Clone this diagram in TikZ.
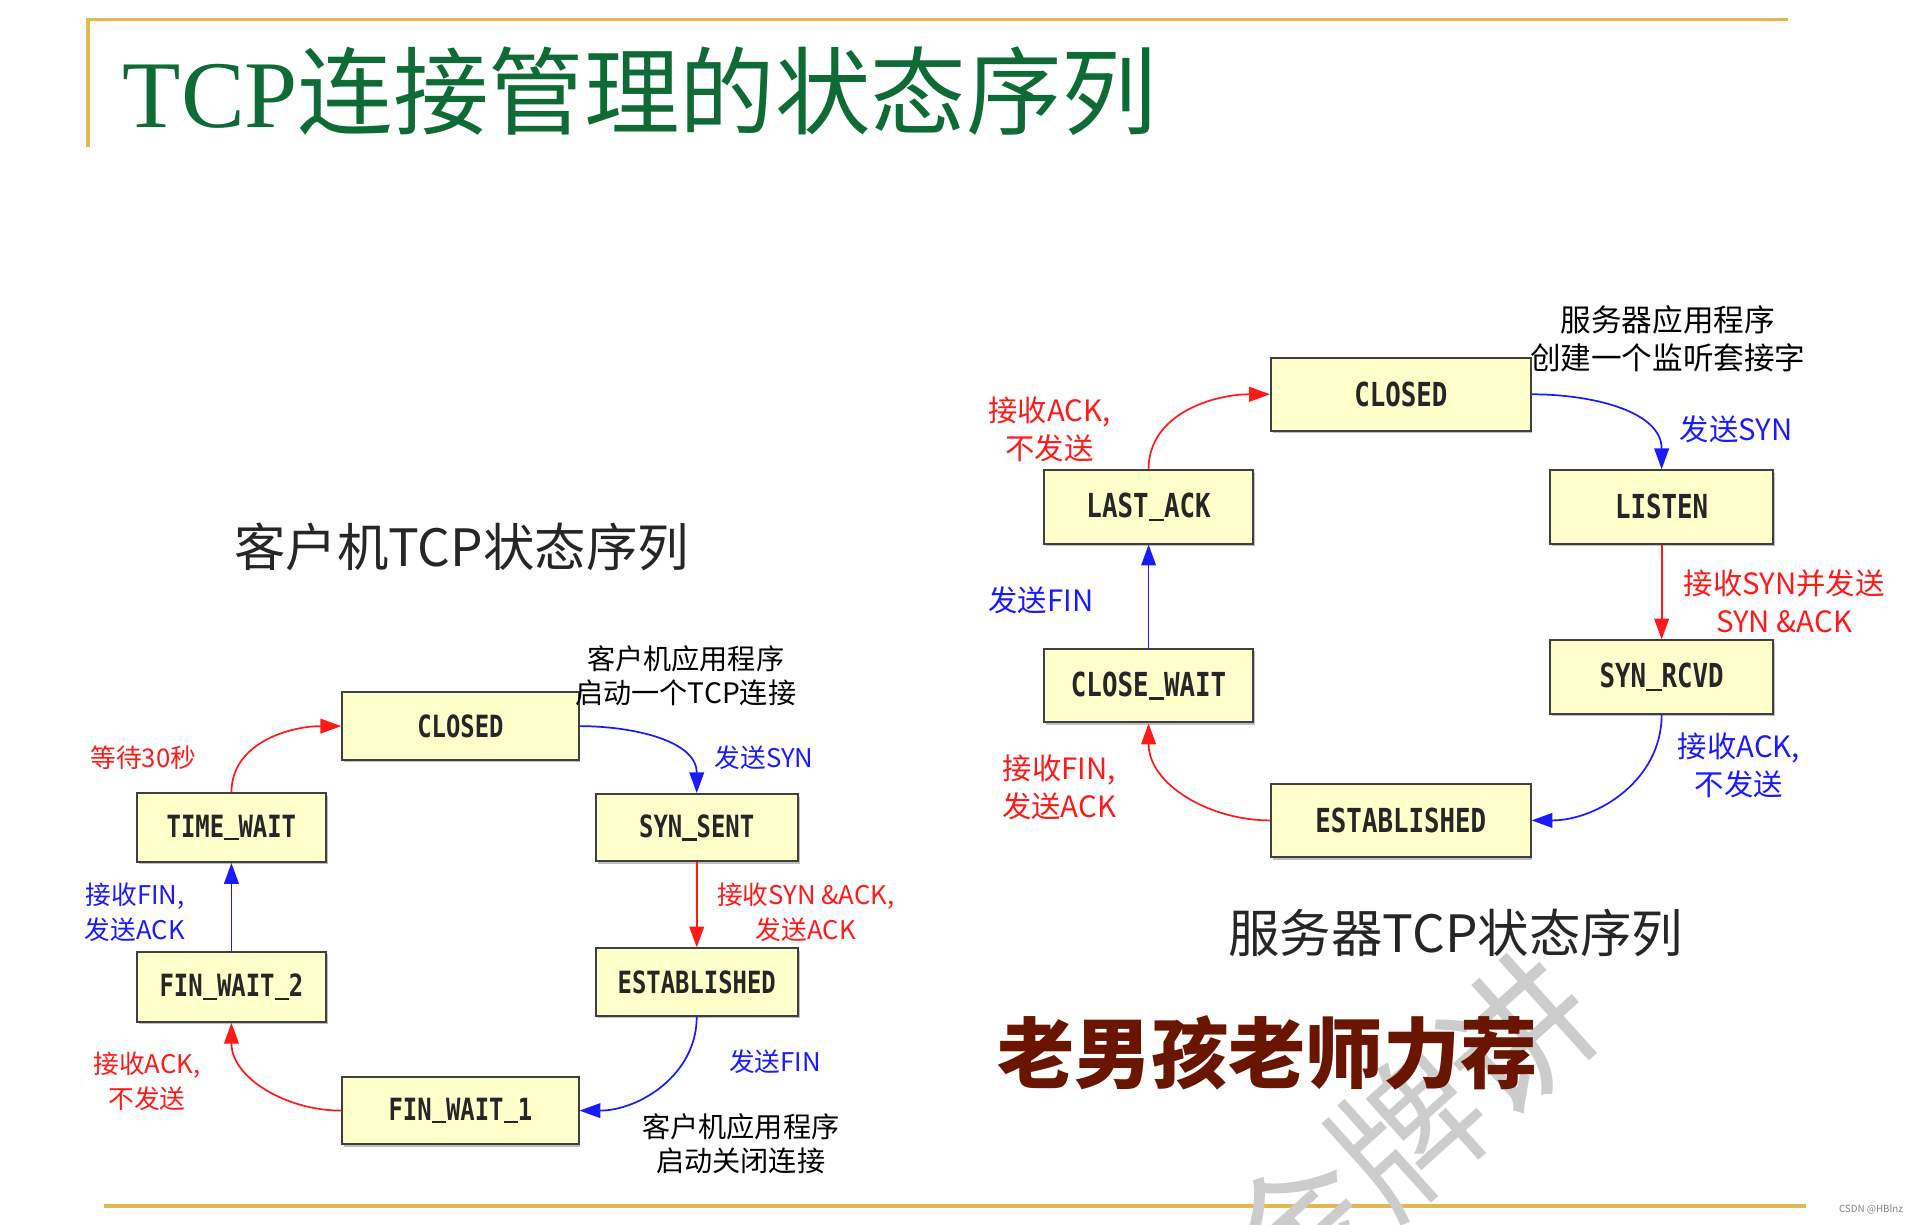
\documentclass[tikz,border=0pt]{standalone}
\usepackage{fontspec}
\setmainfont{Noto Sans CJK SC}
\newfontfamily\titlefont{Liberation Serif}
\newfontfamily\statefont{DejaVu Sans Mono}
\usetikzlibrary{arrows.meta,shadows}
\definecolor{boxfill}{HTML}{FFFFCC}
\definecolor{titlegreen}{HTML}{0E6B36}
\definecolor{goldline}{HTML}{E2B94B}
\definecolor{lblred}{HTML}{FF1A1A}
\definecolor{lblblue}{HTML}{1A1AFF}
\definecolor{tagbrown}{HTML}{6A1500}
\newcommand\st[1]{\scalebox{0.78}[1]{#1}}
\newcommand\us{\rule[-2.5pt]{0.602em}{1.8pt}}
\tikzset{
  state/.style={draw=black!75,line width=1.6pt,fill=boxfill,inner sep=0pt,
    drop shadow={shadow xshift=1.5pt,shadow yshift=-2pt,fill=black!50},
    text=black!85},
  cstate/.style={state,minimum height=55pt,font=\statefont\bfseries\fontsize{25}{25}\selectfont},
  sstate/.style={state,minimum height=60pt,font=\statefont\bfseries\fontsize{27}{27}\selectfont},
  clbl/.style={align=center,inner sep=0pt,font=\fontsize{21}{28}\selectfont},
  slbl/.style={align=center,inner sep=0pt,font=\fontsize{24}{31}\selectfont},
}
\begin{document}
\begin{tikzpicture}[x=1pt,y=1pt,>={Triangle[length=17pt,width=12pt]}]
  \useasboundingbox (0,0) rectangle (1568,-1000);
  % frame and title
  \draw[goldline,line width=3pt] (72,-120) -- (72,-16) -- (1460,-16);
  \draw[goldline,line width=3pt] (85,-985) -- (1475,-985);
  \node[anchor=base west,inner sep=0pt,text=titlegreen,font=\fontsize{78}{80}\selectfont] (title) at (100,-104) {{\titlefont TCP}连接管理的状态序列};
  % watermark
  \node[rotate=42,text=black!20,font=\fontsize{120}{120}\selectfont] (wm) at (1150,-925) {金牌讲};
  % client side
  \node[text=black!85,font=\fontsize{42}{42}\selectfont] (ctitle) at (377,-447) {客户机TCP状态序列};
  \node[cstate,minimum width=193pt] (cCL) at (376,-593) {\st{CLOSED}};
  \node[cstate,minimum width=165pt] (cSS) at (569,-676) {\st{SYN\us SENT}};
  \node[cstate,minimum width=165pt] (cES) at (569,-802) {\st{ESTABLISHED}};
  \node[cstate,minimum width=193pt] (cF1) at (376,-907) {\st{FIN\us WAIT\us 1}};
  \node[cstate,minimum width=154pt,minimum height=57pt] (cF2) at (189,-806) {\st{FIN\us WAIT\us 2}};
  \node[cstate,minimum width=154pt,minimum height=56pt] (cTW) at (189,-676) {\st{TIME\us WAIT}};
  \draw[->,lblblue,line width=1.4pt] (cCL.east) to[out=0,in=90] (cSS.north);
  \draw[->,lblred,line width=1.4pt] (cSS.south) -- (cES.north);
  \draw[->,lblblue,line width=1.4pt] (cES.south) to[out=-90,in=0] (cF1.east);
  \draw[->,lblred,line width=1.4pt] (cF1.west) to[out=180,in=-90] (cF2.south);
  \draw[->,lblblue,line width=1.4pt] (cF2.north) -- (cTW.south);
  \draw[->,lblred,line width=1.4pt] (cTW.north) to[out=90,in=180] (cCL.west);
  \node[clbl,font=\fontsize{23}{28}\selectfont] (cOpen) at (560,-552) {客户机应用程序\\启动一个TCP连接};
  \node[clbl,text=lblblue] (cSyn) at (624,-619) {发送SYN};
  \node[clbl,text=lblred] (cSynAck) at (658,-745) {接收SYN \&ACK,\\发送ACK};
  \node[clbl,text=lblblue] (cFin) at (633,-867) {发送FIN};
  \node[clbl,font=\fontsize{23}{28}\selectfont] (cClose) at (605,-934) {客户机应用程序\\启动关闭连接};
  \node[clbl,text=lblred] (cAck) at (120,-883) {接收ACK,\\不发送};
  \node[clbl,text=lblblue,align=right,anchor=east] (cFinAck) at (151,-745) {接收FIN,\\发送ACK};
  \node[clbl,text=lblred] (cWait) at (117,-619) {等待30秒};
  % server side
  \node[text=black!85,font=\fontsize{42}{42}\selectfont] (stitle) at (1189,-762) {服务器TCP状态序列};
  \node[sstate,minimum width=212pt] (sCL) at (1144,-322) {\st{CLOSED}};
  \node[sstate,minimum width=182pt] (sLI) at (1357,-414) {\st{LISTEN}};
  \node[sstate,minimum width=182pt] (sSR) at (1357,-553) {\st{SYN\us RCVD}};
  \node[sstate,minimum width=212pt] (sES) at (1144,-670) {\st{ESTABLISHED}};
  \node[sstate,minimum width=171pt] (sCW) at (938,-560) {\st{CLOSE\us WAIT}};
  \node[sstate,minimum width=171pt] (sLA) at (938,-414) {\st{LAST\us ACK}};
  \draw[->,lblblue,line width=1.4pt] (sCL.east) to[out=0,in=90] (sLI.north);
  \draw[->,lblred,line width=1.4pt] (sLI.south) -- (sSR.north);
  \draw[->,lblblue,line width=1.4pt] (sSR.south) to[out=-90,in=0] (sES.east);
  \draw[->,lblred,line width=1.4pt] (sES.west) to[out=180,in=-90] (sCW.south);
  \draw[->,lblblue,line width=1.4pt] (sCW.north) -- (sLA.south);
  \draw[->,lblred,line width=1.4pt] (sLA.north) to[out=90,in=180] (sCL.west);
  \node[slbl,font=\fontsize{25}{31}\selectfont] (sOpen) at (1362,-277) {服务器应用程序\\创建一个监听套接字};
  \node[slbl,text=lblblue] (sSyn) at (1418,-351) {发送SYN};
  \node[slbl,text=lblred] (sSynAck) at (1457,-491) {接收SYN并发送\\SYN \&ACK};
  \node[slbl,text=lblblue] (sAck) at (1420,-625) {接收ACK,\\不发送};
  \node[slbl,text=lblred] (sFinAck) at (865,-643) {接收FIN,\\发送ACK};
  \node[slbl,text=lblblue] (sFin) at (850,-490) {发送FIN};
  \node[slbl,text=lblred] (sLast) at (857,-351) {接收ACK,\\不发送};
  % recommendation
  \node[text=tagbrown,font=\bfseries\fontsize{63}{63}\selectfont] (tag) at (1035,-860) {老男孩老师力荐};
  \node[text=black!50,font=\fontsize{8}{8}\selectfont] (csdn) at (1528,-988) {CSDN @HBlnz};
\end{tikzpicture}
\end{document}
